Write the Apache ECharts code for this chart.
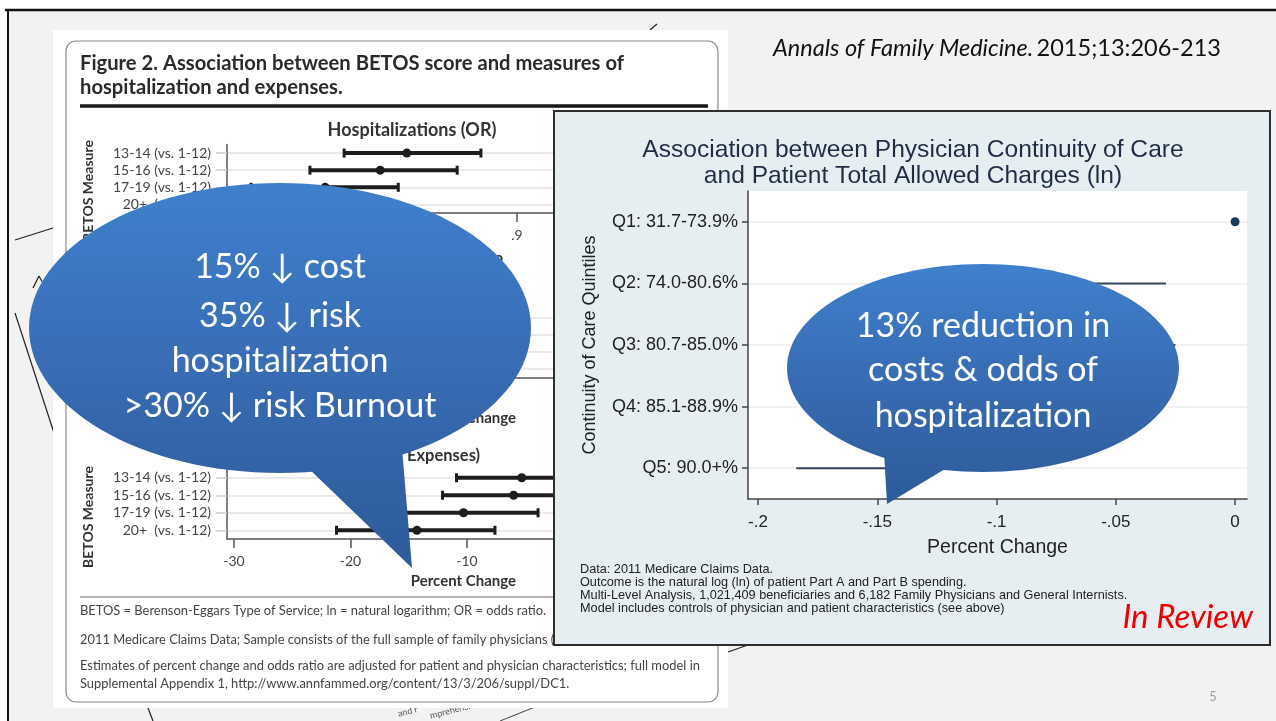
<!DOCTYPE html>
<html><head><meta charset="utf-8">
<script src="https://cdn.jsdelivr.net/npm/echarts@6/dist/echarts.min.js"></script>
<style>html,body{margin:0;padding:0;background:#fff}#c{width:1276px;height:721px}</style>
</head><body><div id="c"></div><script>
// ---------- data ----------
const hospCats = ['13-14 (vs. 1-12)','15-16 (vs. 1-12)','17-19 (vs. 1-12)','20+  (vs. 1-12)'];
const hospLow  = [0.718, 0.682, 0.620, 0.570];
const hospEst  = [0.784, 0.756, 0.698, 0.650];
const hospHigh = [0.862, 0.837, 0.775, 0.740];
const hospTicks = [0.6, 0.7, 0.8, 0.9, 1.0];

const midLow  = [-17.5, -19.0, -22.0, -26.0];
const midEst  = [-12.5, -13.5, -16.5, -19.5];
const midHigh = [-7.5, -8.0, -11.0, -13.0];

const costLow  = [-10.9, -12.1, -16.6, -21.2];
const costEst  = [-5.3, -6.0, -10.3, -14.3];
const costHigh = [0.4, 0.2, -3.9, -7.6];
const pctTicks = [-30, -20, -10, 0, 10];

const qCats = ['Q1: 31.7-73.9%','Q2: 74.0-80.6%','Q3: 80.7-85.0%','Q4: 85.1-88.9%','Q5: 90.0+%'];
const qEst  = [0, -0.068, -0.075, -0.100, -0.130];
const qLow  = [null, -0.100, -0.122, -0.152, -0.184];
const qHigh = [null, -0.029, -0.025, -0.048, -0.090];
const qTicks = [-0.2, -0.15, -0.1, -0.05, 0];

// ---------- helpers ----------
const LF = 'Lato, "Open Sans", sans-serif';
const RF = '"Liberation Sans", Arial, sans-serif';
function fmtDec(v){ if (Math.abs(v) < 1e-9) return '0'; let s = String(Math.round(v*100)/100); return s.replace(/^(-?)0\./, '$1.'); }
function rows(lo, est, hi){ return est.map((e,i)=>[i, lo[i]==null?'-':lo[i], e, hi[i]==null?'-':hi[i]]); }

function leftCI(params, api){
  const y = api.value(0);
  const lo = api.coord([api.value(1), y]);
  const md = api.coord([api.value(2), y]);
  const hi = api.coord([api.value(3), y]);
  const c = '#1d1d1d';
  return {type:'group', children:[
    {type:'line', shape:{x1:lo[0],y1:lo[1],x2:hi[0],y2:hi[1]}, style:{stroke:c,lineWidth:4}},
    {type:'line', shape:{x1:lo[0],y1:lo[1]-4.5,x2:lo[0],y2:lo[1]+4.5}, style:{stroke:c,lineWidth:3}},
    {type:'line', shape:{x1:hi[0],y1:hi[1]-4.5,x2:hi[0],y2:hi[1]+4.5}, style:{stroke:c,lineWidth:3}},
    {type:'circle', shape:{cx:md[0],cy:md[1],r:4.5}, style:{fill:c}}
  ]};
}
function rightCI(params, api){
  const y = api.value(0);
  const l = api.value(1), h = api.value(3);
  const md = api.coord([api.value(2), y]);
  const ch = [];
  if (!isNaN(l) && !isNaN(h)) {
    const lo = api.coord([l, y]), hi = api.coord([h, y]);
    ch.push({type:'line', shape:{x1:lo[0],y1:lo[1],x2:hi[0],y2:hi[1]}, style:{stroke:'#33475e',lineWidth:2}});
  }
  ch.push({type:'circle', shape:{cx:md[0],cy:md[1],r:4.5}, style:{fill:'#1b3a5a'}});
  return {type:'group', children:ch};
}

function leftX(grid, min, max, ticks, show){
  return {gridIndex:grid, type:'value', min:min, max:max,
    axisLine:{show:true,onZero:false,lineStyle:{color:'#555',width:1.5}},
    axisTick:{show:true, customValues:ticks, length:9, lineStyle:{color:'#555',width:1.5}},
    axisLabel:{show:show, customValues:ticks, formatter:fmtDec, margin:15, fontSize:14, color:'#444', fontFamily:LF},
    splitLine:{show:false}};
}
function leftY(grid){
  return {gridIndex:grid, type:'category', data:hospCats, inverse:true,
    axisLine:{show:true,onZero:false,lineStyle:{color:'#555',width:1.5}},
    axisTick:{show:true, alignWithLabel:true, length:11, lineStyle:{color:'#cfcfcf',width:1.5}},
    axisLabel:{interval:0, margin:16, fontSize:14, color:'#444', fontFamily:LF},
    splitLine:{show:true, interval:0, alignWithLabel:true, lineStyle:{color:'#e3e3e3',width:1.5}}};
}

function txt(x, y, text, font, fill, align, extra){
  return Object.assign({type:'text', x:x, y:y, style:{text:text, font:font, fill:fill||'#333',
    textAlign:align||'left', align:align||'left', textVerticalAlign:'middle', verticalAlign:'middle'}}, extra||{});
}
function ln(x1,y1,x2,y2,color,w,extra){
  return Object.assign({type:'line', shape:{x1:x1,y1:y1,x2:x2,y2:y2}, style:{stroke:color,lineWidth:w}}, extra||{});
}
function grad(y0, y1){
  return new echarts.graphic.LinearGradient(0, y0, 0, y1, [
    {offset:0, color:'#3f80cd'}, {offset:0.55, color:'#3769b0'}, {offset:1, color:'#2c5b99'}], true);
}

// ---------- graphics ----------
const G = [];
// slide
G.push({type:'rect', shape:{x:8,y:10,width:1268,height:711}, style:{fill:'#f2f2f2'}, z:-20});
G.push(ln(5,10,1276,10,'#111',2.5,{z:-19}));
G.push(ln(8,10,8,721,'#111',2,{z:-19}));
// stray page fragments
G.push(ln(15,240,53,228,'#222',1.2,{z:-18}));
G.push(ln(33,288,39,276,'#222',1.2,{z:-18}));
G.push(ln(39,276,44,285,'#222',1.2,{z:-18}));
G.push(ln(15,313,54,433,'#222',1.2,{z:-18}));
G.push(ln(148,708,153,721,'#222',1.2,{z:-18}));
G.push(ln(728,652,762,640,'#222',1.2,{z:-18}));
G.push(ln(650,30,657,24,'#222',1.2,{z:-18}));
G.push(ln(500,721,545,703,'#444',1,{z:-18}));
G.push(txt(398,714,'and r',  '9px '+LF, '#555','left',{rotation:0.25, z:-18}));
G.push(txt(430,716,'mprehensive', '9px '+LF, '#555','left',{rotation:0.25, z:-18}));
// paper + box
G.push({type:'rect', shape:{x:53,y:30,width:675,height:678}, style:{fill:'#ffffff'}, z:-16});
G.push({type:'rect', shape:{x:66,y:41,width:652,height:661,r:10}, style:{fill:'none',stroke:'#8a8a8a',lineWidth:1.2}, z:-15});
G.push(txt(80,63,'Figure 2. Association between BETOS score and measures of','bold 20.2px '+LF,'#2a2a2a'));
G.push(txt(80,87,'hospitalization and expenses.','bold 20.2px '+LF,'#2a2a2a'));
G.push(ln(80,106,708,106,'#161616',3.5));
G.push(txt(412,130,'Hospitalizations (OR)','bold 18px '+LF,'#333','center'));
G.push(txt(503,258,'Odds Ratio','bold 15px '+LF,'#333','right'));
G.push(txt(516,418,'Percent Change','bold 15px '+LF,'#333','right'));
G.push(txt(392,456,'Total Costs (ln','bold 16.5px '+LF,'#333','right'));
G.push(txt(407,456,'Expenses)','bold 16.5px '+LF,'#333','left'));
G.push(txt(516,581,'Percent Change','bold 15px '+LF,'#333','right'));
G.push(txt(88,191,'BETOS Measure','bold 14px '+LF,'#333','center',{rotation:Math.PI/2}));
G.push(txt(88,517,'BETOS Measure','bold 14px '+LF,'#333','center',{rotation:Math.PI/2}));
G.push(ln(80,597,708,597,'#6a6a6a',1));
G.push(txt(80,611,'BETOS = Berenson-Eggars Type of Service; ln = natural logarithm; OR = odds ratio.','12.9px '+LF,'#444'));
G.push(txt(80,640,'2011 Medicare Claims Data; Sample consists of the full sample of family physicians (n = 5,660).','12.9px '+LF,'#444'));
G.push(txt(80,666,'Estimates of percent change and odds ratio are adjusted for patient and physician characteristics; full model in','12.9px '+LF,'#444'));
G.push(txt(80,684,'Supplemental Appendix 1, http://www.annfammed.org/content/13/3/206/suppl/DC1.','12.9px '+LF,'#444'));
// header citation + page no
G.push({type:'text', x:773, y:48, style:{text:'{a|Annals of Family Medicine.} {b|2015;13:206-213}',
  rich:{a:{fontStyle:'italic', fontSize:23.5, fontFamily:LF, fill:'#111', color:'#111'}, b:{fontSize:23.5, fontFamily:LF, fill:'#111', color:'#111'}},
  textVerticalAlign:'middle', verticalAlign:'middle'}});
G.push(txt(1213,697,'5','13px '+LF,'#a0a0a0','center'));

// right panel (zlevel 1)
G.push({type:'rect', zlevel:1, z:-10, shape:{x:554,y:111,width:716,height:534}, style:{fill:'#e7eef1',stroke:'#2e2e2e',lineWidth:2}});
G.push(txt(913,150,'Association between Physician Continuity of Care','24.6px '+RF,'#1f2c44','center',{zlevel:1,z:10}));
G.push(txt(913,176,'and Patient Total Allowed Charges (ln)','24.6px '+RF,'#1f2c44','center',{zlevel:1,z:10}));
G.push(txt(590,345,'Continuity of Care Quintiles','18px '+RF,'#222','center',{zlevel:1,z:10,rotation:Math.PI/2}));
G.push(txt(580,569,'Data: 2011 Medicare Claims Data.','12.7px '+RF,'#222','left',{zlevel:1,z:10}));
G.push(txt(580,582,'Outcome is the natural log (ln) of patient Part A and Part B spending.','12.7px '+RF,'#222','left',{zlevel:1,z:10}));
G.push(txt(580,595,'Multi-Level Analysis, 1,021,409 beneficiaries and 6,182 Family Physicians and General Internists.','12.7px '+RF,'#222','left',{zlevel:1,z:10}));
G.push(txt(580,608,'Model includes controls of physician and patient characteristics (see above)','12.7px '+RF,'#222','left',{zlevel:1,z:10}));
G.push(txt(1253,617,'In Review','italic 33px '+LF,'#ee0000','right',{zlevel:1,z:10}));

// callouts (zlevel 2)
const g1 = grad(183, 568);
G.push({type:'ellipse', zlevel:2, z:1, shape:{cx:280,cy:328,rx:251,ry:145}, style:{fill:g1}});
G.push({type:'polygon', zlevel:2, z:1, shape:{points:[[306,466],[402,448],[412,568]]}, style:{fill:g1}});
const bf = '34px '+LF;
G.push(txt(280,267,'15% \u2193 cost',bf,'#fff','center',{zlevel:2,z:5}));
G.push(txt(280,316,'35% \u2193 risk',bf,'#fff','center',{zlevel:2,z:5}));
G.push(txt(280,361,'hospitalization',bf,'#fff','center',{zlevel:2,z:5}));
G.push(txt(280,406,'>30% \u2193 risk Burnout',bf,'#fff','center',{zlevel:2,z:5}));
const g2 = grad(264, 504);
G.push({type:'ellipse', zlevel:2, z:1, shape:{cx:983,cy:368,rx:196,ry:104}, style:{fill:g2}});
G.push({type:'polygon', zlevel:2, z:1, shape:{points:[[884,452],[950,466],[887,504]]}, style:{fill:g2}});
G.push(txt(983,326,'13% reduction in',bf,'#fff','center',{zlevel:2,z:5}));
G.push(txt(983,370,'costs & odds of',bf,'#fff','center',{zlevel:2,z:5}));
G.push(txt(983,416,'hospitalization',bf,'#fff','center',{zlevel:2,z:5}));

// ---------- chart ----------
const chart = echarts.init(document.getElementById('c'), null, {renderer:'canvas'});
const option = {
  backgroundColor:'#ffffff',
  animation:false,
  grid:[
    {left:227, top:144.5, width:473, height:68.5, outerBoundsMode:'none'},
    {left:227, top:309.5, width:473, height:68, outerBoundsMode:'none'},
    {left:227, top:469, width:473, height:70, outerBoundsMode:'none'},
    {left:748, top:191, width:499, height:308, show:true, backgroundColor:'#ffffff', borderWidth:0, zlevel:1, outerBoundsMode:'none'}
  ],
  xAxis:[
    leftX(0, 0.5947, 1.0926, hospTicks, true),
    leftX(1, -30.6, 10, pctTicks, true),
    leftX(2, -30.6, 10, pctTicks, true),
    {gridIndex:3, zlevel:1, type:'value', min:-0.2042, max:0.005,
      axisLine:{show:true,onZero:false,lineStyle:{color:'#444',width:1.5}},
      axisTick:{show:true, customValues:qTicks, length:6, lineStyle:{color:'#444',width:1.5}},
      axisLabel:{customValues:qTicks, formatter:fmtDec, margin:15, fontSize:17, color:'#222', fontFamily:RF},
      splitLine:{show:false},
      name:'Percent Change', nameLocation:'middle', nameGap:39,
      nameTextStyle:{fontSize:19.5, color:'#222', fontFamily:RF}}
  ],
  yAxis:[
    leftY(0), leftY(1), leftY(2),
    {gridIndex:3, zlevel:1, type:'category', data:qCats, inverse:true,
      axisLine:{show:true,onZero:false,lineStyle:{color:'#444',width:1.5}},
      axisTick:{show:true, alignWithLabel:true, length:6, lineStyle:{color:'#444',width:1.5}},
      axisLabel:{interval:0, margin:10, fontSize:18, color:'#222', fontFamily:RF},
      splitLine:{show:true, interval:0, alignWithLabel:true, lineStyle:{color:'#ececec',width:1.5}}}
  ],
  series:[
    {type:'custom', xAxisIndex:0, yAxisIndex:0, renderItem:leftCI, encode:{x:[1,2,3], y:0}, data:rows(hospLow,hospEst,hospHigh)},
    {type:'custom', xAxisIndex:1, yAxisIndex:1, renderItem:leftCI, encode:{x:[1,2,3], y:0}, data:rows(midLow,midEst,midHigh)},
    {type:'custom', xAxisIndex:2, yAxisIndex:2, renderItem:leftCI, encode:{x:[1,2,3], y:0}, data:rows(costLow,costEst,costHigh)},
    {type:'custom', xAxisIndex:3, yAxisIndex:3, zlevel:1, z:5, renderItem:rightCI, encode:{x:[1,2,3], y:0}, data:rows(qLow,qEst,qHigh),
      markLine:{silent:true, symbol:'none', label:{show:false}, lineStyle:{color:'#c4304c', width:2, type:'solid'}, data:[{xAxis:0}]}}
  ],
  graphic:{elements:G}
};
chart.setOption(option);
</script></body></html>
